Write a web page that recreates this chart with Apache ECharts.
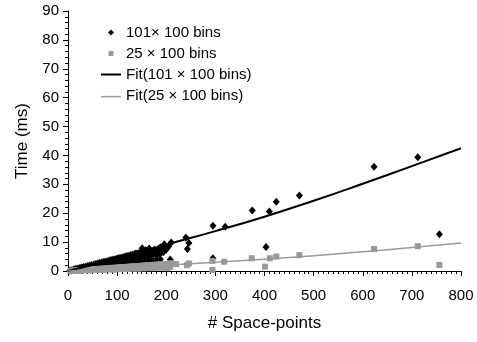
<!DOCTYPE html>
<html>
<head>
<meta charset="utf-8">
<script src="https://cdn.jsdelivr.net/npm/echarts@6/dist/echarts.min.js"></script>
<style>
  html, body { margin: 0; padding: 0; background: #fff; }
  #chart { width: 477px; height: 342px; }
</style>
</head>
<body>
<div id="chart"></div>
<script>
// Processing time vs. number of space-points, two binning schemes.
const seriesNames = ['101\u00d7 100 bins', '25 \u00d7 100 bins', 'Fit(101 \u00d7 100 bins)', 'Fit(25 \u00d7 100 bins)'];

// 101 x 100 bins measurements [space-points, ms]
const fineBins = [
  // upper edge of the dense band
  [4,0.2],[8,0.3],[12,0.5],[16,0.7],[20,0.9],[24,1.0],[28,1.2],[32,1.4],[36,1.5],[40,1.7],
  [44,1.9],[48,2.1],[52,2.2],[56,2.4],[60,2.6],[64,2.8],[68,2.9],[72,3.1],[76,3.3],[80,3.4],
  [84,3.6],[88,3.8],[92,4.0],[96,4.1],[100,4.3],[104,4.5],[108,4.6],[112,4.8],[116,5.0],[120,5.2],
  [124,5.3],[128,5.5],[132,5.7],[136,5.8],[140,6.0],[144,6.2],[148,6.4],[152,6.5],[156,6.7],[160,6.9],
  [164,7.1],[168,7.2],[172,6.8],[176,7.4],[180,7.0],[184,7.6],[188,7.1],[192,7.3],[196,6.9],
  // middle of the band
  [6,0.2],[10,0.3],[14,0.5],[18,0.6],[22,0.7],[26,0.9],[30,1.0],[34,1.1],[38,1.3],[42,1.4],
  [46,1.5],[50,1.7],[54,1.8],[58,1.9],[62,2.1],[66,2.2],[70,2.3],[74,2.5],[78,2.6],[82,2.7],
  [86,2.9],[90,3.0],[94,3.1],[98,3.3],[102,3.4],[106,3.5],[110,3.7],[114,3.8],[118,3.9],[122,4.1],
  [126,4.2],[130,4.3],[134,4.5],[138,4.6],[142,4.7],[146,4.9],[150,5.0],[154,5.1],[158,5.3],[162,5.4],
  [166,5.5],[170,5.7],[174,5.8],[178,6.0],[182,6.1],[186,6.2],[190,6.4],[194,6.5],
  // lower edge of the band
  [20,0.4],[28,0.6],[36,0.8],[44,1.0],[52,1.1],[60,1.3],[68,1.5],[76,1.7],[84,1.8],[92,2.0],
  [100,2.2],[108,2.4],[116,2.6],[124,2.7],[132,2.9],[140,3.1],[148,3.3],[156,3.4],[164,3.6],[172,3.8],
  [180,4.0],[188,4.1],
  // scattered points
  [138,6.1],[145,2.7],[151,7.9],[158,7.2],[165,7.8],[182,5.9],[188,8.2],[196,9.3],[200,7.4],[205,8.6],
  [208,4.0],[210,9.9],[240,11.6],[243,7.6],[246,9.7],[295,15.7],[295,4.4],[320,15.3],[375,20.9],[403,8.3],
  [410,20.6],[424,24.0],[471,26.1],[623,36.1],[712,39.4],[756,12.7]
];

// 25 x 100 bins measurements [space-points, ms]
const coarseBins = [
  [5,0.1],[10,0.1],[15,0.2],[20,0.2],[25,0.3],[30,0.4],[35,0.4],[40,0.5],[45,0.5],[50,0.6],
  [55,0.7],[60,0.7],[65,0.8],[70,0.8],[75,0.9],[80,1.0],[85,1.0],[90,1.1],[95,1.1],[100,1.2],
  [105,1.3],[110,1.3],[115,1.4],[120,1.4],[125,1.5],[130,1.6],[135,1.6],[140,1.7],[145,1.7],[150,1.8],
  [155,1.9],[160,1.9],[165,2.0],[170,2.0],[175,2.1],[180,2.2],[185,2.2],[190,2.3],[195,2.3],[200,2.4],
  [12,0.1],[22,0.1],[32,0.2],[42,0.2],[52,0.3],[62,0.4],[72,0.4],[82,0.5],[92,0.5],[102,0.6],
  [112,0.7],[122,0.7],[132,0.8],[142,0.8],[152,0.9],[162,1.0],[172,1.0],[182,1.1],[192,1.1],
  [203,1.0],[208,1.5],[210,2.7],[220,2.4],[242,2.0],[246,2.6],[294,0.4],[294,3.5],[318,3.2],
  [374,4.4],[401,1.5],[411,4.4],[424,5.0],[471,5.5],[623,7.6],[712,8.6],[756,2.1]
];

// Fitted curves sampled along the x range [space-points, ms]
const fineFit = [[0,0],[100,4.3],[200,9.1],[300,13.8],[400,18.8],[500,24.3],[600,30.2],[700,36.3],[800,42.5]];
const coarseFit = [[0,0],[100,0.9],[200,2.0],[300,3.0],[400,4.1],[500,5.3],[600,6.7],[700,8.1],[800,9.7]];

// Axis ranges: major step and number of minor divisions
const xRange = { min: 0, max: 800, step: 100, minorDivisions: 10 };
const yRange = { min: 0, max: 90, step: 10, minorDivisions: 5 };

const FONT = "'Liberation Sans', Arial, sans-serif";
const GRAY = '#999999';

const chart = echarts.init(document.getElementById('chart'));

function valueAxis(range, name, nameGap, labelMargin) {
  return {
    type: 'value',
    min: range.min, max: range.max, interval: range.step,
    name: name, nameLocation: 'middle', nameGap: nameGap,
    nameTextStyle: { color: '#000', fontFamily: FONT, fontSize: 17 },
    axisLine: { show: true, lineStyle: { color: '#000', width: 1 } },
    axisTick: { show: true, length: 5, lineStyle: { color: '#000', width: 1 } },
    minorTick: { show: true, splitNumber: range.minorDivisions, length: 3, lineStyle: { color: '#000', width: 1 } },
    axisLabel: { color: '#000', fontFamily: FONT, fontSize: 15, margin: labelMargin },
    splitLine: { show: false },
    minorSplitLine: { show: false }
  };
}

// Legend icons, drawn inside a 20 x 6 box
const legendIcons = [
  'path://M0 3M20 3M10 0L13 3L10 6L7 3Z',
  'path://M0 3M20 3M7.5 0.5H12.5V5.5H7.5Z',
  'path://M0 2M20 2M0 0H20V2H0Z',
  'path://M0 0M20 0M0 2.25H20V3.75H0Z'
];

chart.setOption({
  animation: false,
  grid: { left: 68, right: 16, top: 11, bottom: 71 },
  legend: {
    orient: 'vertical',
    left: 96,
    top: 20,
    itemWidth: 20,
    itemHeight: 6,
    itemGap: 6,
    textStyle: { color: '#000', fontFamily: FONT, fontSize: 15 },
    data: [
      { name: seriesNames[0], icon: legendIcons[0], itemStyle: { color: '#000' } },
      { name: seriesNames[1], icon: legendIcons[1], itemStyle: { color: GRAY } },
      { name: seriesNames[2], icon: legendIcons[2], itemStyle: { color: '#000' } },
      { name: seriesNames[3], icon: legendIcons[3], itemStyle: { color: GRAY } }
    ]
  },
  xAxis: valueAxis(xRange, '# Space-points', 44, 17),
  yAxis: valueAxis(yRange, 'Time (ms)', 37, 9),
  series: [
    {
      name: seriesNames[0],
      type: 'scatter',
      symbol: 'diamond',
      symbolSize: [7, 8],
      itemStyle: { color: '#000', opacity: 1 },
      data: fineBins,
      z: 2
    },
    {
      name: seriesNames[1],
      type: 'scatter',
      symbol: 'rect',
      symbolSize: 6,
      itemStyle: { color: GRAY, opacity: 1 },
      data: coarseBins,
      z: 3
    },
    {
      name: seriesNames[2],
      type: 'line',
      symbol: 'none',
      smooth: true,
      lineStyle: { color: '#000', width: 2 },
      itemStyle: { color: '#000' },
      data: fineFit,
      z: 4
    },
    {
      name: seriesNames[3],
      type: 'line',
      symbol: 'none',
      smooth: true,
      lineStyle: { color: GRAY, width: 1.5 },
      itemStyle: { color: GRAY },
      data: coarseFit,
      z: 5
    }
  ]
});
</script>
</body>
</html>
